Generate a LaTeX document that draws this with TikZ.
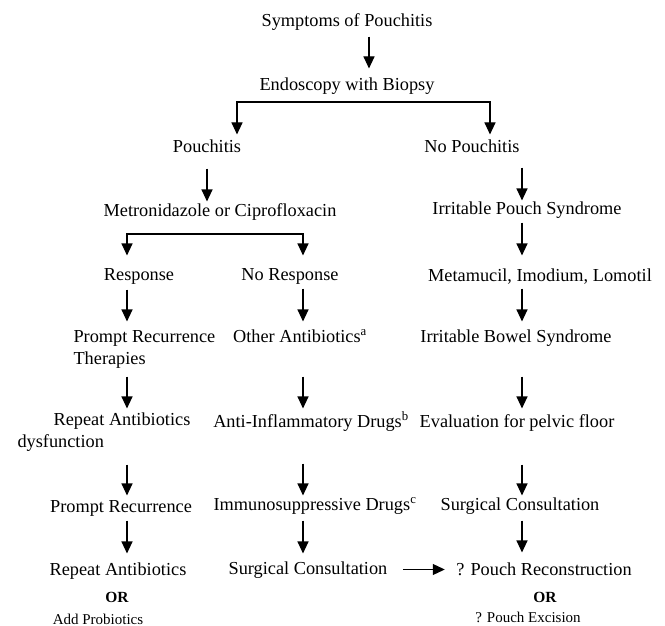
\documentclass[tikz,border=0pt]{standalone}
\usepackage{fontspec}
\setmainfont{Liberation Serif}
\usetikzlibrary{arrows.meta}

\begin{document}
\begin{tikzpicture}[x=1pt, y=-1pt, line width=1.1pt,
	every node/.style={font=\fontsize{18.3}{22}\selectfont, inner sep=0pt, text height=13pt, text depth=4pt, anchor=base},
	small/.style={font=\fontsize{15}{18}\selectfont},
	orlabel/.style={font=\fontsize{15.5}{18}\selectfont\bfseries},
	>={Triangle[length=12pt, width=11pt]}]
	\useasboundingbox (0,0) rectangle (665,626);
	% columns of the arrows
	\coordinate (colT) at (369,0);
	\coordinate (colL) at (127,0);
	\coordinate (colM) at (303,0);
	\coordinate (colR) at (522,0);
	\coordinate (fork1) at (237,102);
	\coordinate (fork2) at (490,102);
	\coordinate (fork3) at (127,234);
	\coordinate (fork4) at (303,234);

	\node (symp) at (347,27) {Symptoms of Pouchitis};
	\node (endo) at (347,91) {Endoscopy with Biopsy};
	\node (pouch) at (207,153) {Pouchitis};
	\node (nopouch) at (472,153) {No Pouchitis};
	\node (metro) at (220,216) {Metronidazole or Ciprofloxacin};
	\node (ips) at (527,214) {Irritable Pouch Syndrome};
	\node (resp) at (139,280) {Response};
	\node (noresp) at (290,280) {No Response};
	\node (meta) at (540,281) {Metamucil, Imodium, Lomotil};
	\node[anchor=base west, align=left, text height=35pt] (prompt) at (73,364) {Prompt Recurrence\\Therapies};
	\node (other) at (300,342) {Other Antibiotics\textsuperscript{a}};
	\node (ibs) at (516,342) {Irritable Bowel Syndrome};
	\node (rep) at (122,425) {Repeat Antibiotics};
	\node[anchor=base west] (dysf) at (17,447) {dysfunction};
	\node (anti) at (311,427) {Anti-Inflammatory Drugs\textsuperscript{b}};
	\node (eval) at (517,427) {Evaluation for pelvic floor};
	\node (prompt2) at (121,512) {Prompt Recurrence};
	\node (immuno) at (315,510) {Immunosuppressive Drugs\textsuperscript{c}};
	\node (surg2) at (520,510) {Surgical Consultation};
	\node (rep2) at (118,575) {Repeat Antibiotics};
	\node (surg) at (308,574) {Surgical Consultation};
	\node (recon) at (544,575) {? Pouch Reconstruction};
	\node[orlabel] (or1) at (117,602) {OR};
	\node[small] (probio) at (98,624) {Add Probiotics};
	\node[orlabel] (or2) at (545,602) {OR};
	\node[small] (excis) at (528,622) {? Pouch Excision};

	% top
	\draw[->, shorten <=5pt, shorten >=9pt] (symp.south -| colT) -- (endo.north -| colT);
	\draw[<->, shorten <=5pt, shorten >=5pt] (pouch.north -| fork1) -- (fork1) -- (fork2) -- (nopouch.north -| fork2);
	\draw[->, shorten <=11pt, shorten >=1pt] (pouch.south) -- (pouch.south |- metro.north);
	\draw[<->, shorten <=11pt, shorten >=11pt] (resp.north -| fork3) -- (fork3) -- (fork4) -- (noresp.north -| fork4);
	% left
	\draw[->, shorten <=5pt, shorten >=7pt] (resp.south -| colL) -- (prompt.north -| colL);
	\draw[->, shorten <=8pt, shorten >=3pt] (prompt.south -| colL) -- (rep.north -| colL);
	\draw[->, shorten <=35pt, shorten >=3pt] (rep.south -| colL) -- (prompt2.north -| colL);
	\draw[->, shorten <=4pt, shorten >=8pt] (prompt2.south -| colL) -- (rep2.north -| colL);
	% middle
	\draw[->, shorten <=4pt, shorten >=7pt] (noresp.south -| colM) -- (other.north -| colM);
	\draw[->, shorten <=30pt, shorten >=5pt] (other.south -| colM) -- (anti.north -| colM);
	\draw[->, shorten <=32pt, shorten >=1pt] (anti.south -| colM) -- (immuno.north -| colM);
	\draw[->, shorten <=6pt, shorten >=7pt] (immuno.south -| colM) -- (surg.north -| colM);
	% right
	\draw[->, shorten <=10pt, shorten >=0pt] (nopouch.south -| colR) -- (ips.north -| colR);
	\draw[->, shorten <=4pt, shorten >=12pt] (ips.south -| colR) -- (meta.north -| colR);
	\draw[->, shorten <=3pt, shorten >=7pt] (meta.south -| colR) -- (ibs.north -| colR);
	\draw[->, shorten <=30pt, shorten >=5pt] (ibs.south -| colR) -- (eval.north -| colR);
	\draw[->, shorten <=33pt, shorten >=1pt] (eval.south -| colR) -- (surg2.north -| colR);
	\draw[->, shorten <=6pt, shorten >=9pt] (surg2.south -| colR) -- (recon.north -| colR);
	\draw[->, shorten <=15pt, shorten >=11pt] (surg.east) -- (surg.east -| recon.west);
\end{tikzpicture}
\end{document}
